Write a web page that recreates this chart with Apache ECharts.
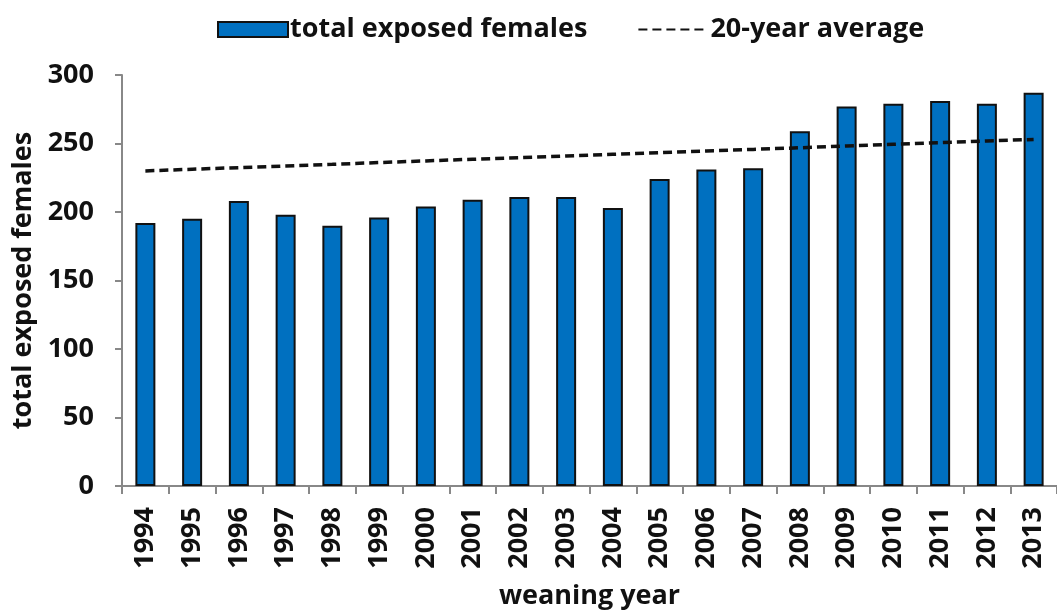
<!DOCTYPE html>
<html>
<head>
<meta charset="utf-8">
<script src="https://cdn.jsdelivr.net/npm/echarts@6/dist/echarts.min.js"></script>
<style>html,body{margin:0;padding:0;background:#fff}#c{width:1057px;height:615px}</style>
</head>
<body>
<div id="c"></div>
<script>
const years = ['1994','1995','1996','1997','1998','1999','2000','2001','2002','2003','2004','2005','2006','2007','2008','2009','2010','2011','2012','2013'];
const totalExposedFemales = [192,195,208,198,190,196,204,209,211,211,203,224,231,232,259,277,279,281,279,287];
const twentyYearAverage = [230,231.2,232.4,233.6,234.8,236.1,237.3,238.5,239.7,240.9,242.1,243.3,244.5,245.7,246.9,248.2,249.4,250.6,251.8,253];
const yTicks = [0,50,100,150,200,250,300];

const FONT = 'Open Sans';
const chart = echarts.init(document.getElementById('c'));
chart.setOption({
  animation: false,
  backgroundColor: '#fff',
  legend: {
    top: 11,
    left: 212,
    itemGap: 50,
    itemWidth: 70,
    itemHeight: 15,
    textStyle: {fontFamily: FONT, fontWeight: 'bold', fontSize: 27, color: '#111', padding: [0,0,0,-3]},
    data: [
      {name: 'total exposed females', icon: 'rect'},
      {name: '20-year average', itemStyle: {opacity: 0}}
    ]
  },
  grid: {left: 122, top: 75, height: 421, right: -9, containLabel: false},
  xAxis: {
    type: 'category',
    data: years,
    name: 'weaning year',
    nameLocation: 'middle',
    nameGap: 97,
    nameTextStyle: {fontFamily: FONT, fontWeight: 'bold', fontSize: 27, color: '#111'},
    axisLine: {lineStyle: {color: '#888', width: 2}},
    axisTick: {show: true, length: 8, lineStyle: {color: '#888', width: 2}},
    axisLabel: {rotate: 90, margin: 21, fontFamily: FONT, fontWeight: 'bold', fontSize: 27, color: '#111'}
  },
  yAxis: {
    type: 'value',
    min: 0, max: 300, interval: 50,
    name: 'total exposed females',
    nameLocation: 'middle',
    nameGap: 85,
    nameTextStyle: {fontFamily: FONT, fontWeight: 'bold', fontSize: 27, color: '#111'},
    axisLine: {show: true, lineStyle: {color: '#888', width: 2}},
    axisTick: {show: true, length: 7, lineStyle: {color: '#888', width: 2}},
    splitLine: {show: false},
    axisLabel: {margin: 28, fontFamily: FONT, fontWeight: 'bold', fontSize: 27, color: '#111',
      formatter: v => yTicks.includes(v) ? String(v) : ''}
  },
  series: [
    {
      name: 'total exposed females',
      type: 'bar',
      data: totalExposedFemales,
      barWidth: 20,
      itemStyle: {color: '#0070C0', borderColor: '#111', borderWidth: 2}
    },
    {
      name: '20-year average',
      type: 'line',
      data: twentyYearAverage,
      symbol: 'none',
      lineStyle: {color: '#111', width: 3.5, type: [9, 5]},
      itemStyle: {color: '#111'},
      z: 5
    }
  ]
});
</script>
</body>
</html>
